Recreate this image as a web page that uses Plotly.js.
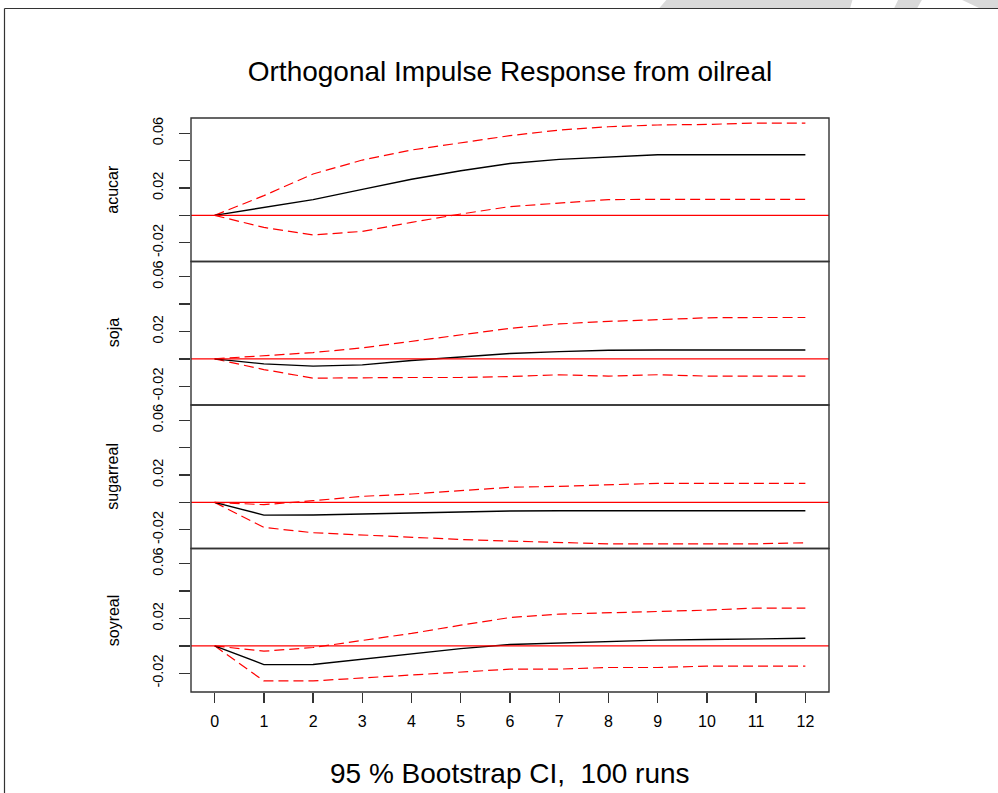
<!DOCTYPE html>
<html>
<head>
<meta charset="utf-8">
<script src="https://cdn.plot.ly/plotly-3.0.1.min.js"></script>
<style>
html,body{margin:0;padding:0;background:#fff;}
#chart{width:998px;height:793px;}
</style>
</head>
<body>
<div id="chart"></div>
<script>
// ---- data ----
const steps = [0,1,2,3,4,5,6,7,8,9,10,11,12];
const panelNames = ["acucar","soja","sugarreal","soyreal"];
const tickVals = [-0.02,0,0.02,0.04,0.06];
const tickLabels = ["-0.02","","0.02","","0.06"];
const xTickLabels = ["0","1","2","3","4","5","6","7","8","9","10","11","12"];

const acucar_irf   = [0,0.0055,0.0115,0.019,0.0264,0.0326,0.0379,0.0409,0.0428,0.0443,0.0443,0.0443,0.0443];
const acucar_upper = [0,0.0144,0.0302,0.0404,0.0477,0.0528,0.0582,0.0623,0.0647,0.066,0.0664,0.0674,0.0674];
const acucar_lower = [0,-0.0088,-0.0143,-0.0117,-0.0051,0.001,0.0064,0.009,0.0115,0.0117,0.0117,0.0117,0.0117];

const soja_irf   = [0,-0.0037,-0.0053,-0.0044,-0.0012,0.0015,0.0039,0.0053,0.0063,0.0065,0.0065,0.0065,0.0065];
const soja_upper = [0,0.0024,0.0046,0.008,0.0126,0.0177,0.0223,0.0255,0.0274,0.0286,0.03,0.0302,0.0302];
const soja_lower = [0,-0.0078,-0.0141,-0.0136,-0.0136,-0.0136,-0.0129,-0.0116,-0.0126,-0.0116,-0.0126,-0.0126,-0.0126];

const sugarreal_irf   = [0,-0.0093,-0.0092,-0.0085,-0.0076,-0.0072,-0.0063,-0.0061,-0.0061,-0.0061,-0.0061,-0.0061,-0.0061];
const sugarreal_upper = [0,-0.0017,0.0012,0.0044,0.0061,0.0088,0.011,0.0117,0.013,0.0139,0.0139,0.0139,0.0139];
const sugarreal_lower = [0,-0.0183,-0.0222,-0.0239,-0.0254,-0.0271,-0.0283,-0.0293,-0.0303,-0.0303,-0.0303,-0.0303,-0.0295];

const soyreal_irf   = [0,-0.0137,-0.0136,-0.0097,-0.0054,-0.002,0.001,0.0022,0.0032,0.0042,0.0046,0.0053,0.0055];
const soyreal_upper = [0,-0.0039,-0.0012,0.0037,0.0091,0.0151,0.0207,0.0232,0.0244,0.0251,0.0261,0.0276,0.0276];
const soyreal_lower = [0,-0.0256,-0.0256,-0.0234,-0.0214,-0.019,-0.017,-0.017,-0.0158,-0.0158,-0.0148,-0.0148,-0.0148];

const titleText = "Orthogonal Impulse Response from oilreal";
const footText = "95 % Bootstrap CI,\u00a0\u00a0100 runs";

// ---- layout helpers ----
const W = 998, H = 793;
const L = 191, R = 829, T = 118, B = 692;
const px = v => (v - L) / (R - L);
const py = v => (B - v) / (B - T);
const FONT = '"Liberation Sans", Arial, sans-serif';
const yRange = [-0.0337, 0.0711];

const series = [
  {irf: acucar_irf, up: acucar_upper, lo: acucar_lower},
  {irf: soja_irf, up: soja_upper, lo: soja_lower},
  {irf: sugarreal_irf, up: sugarreal_upper, lo: sugarreal_lower},
  {irf: soyreal_irf, up: soyreal_upper, lo: soyreal_lower}
];
// panel i (0 = top) uses axis index 4-i (y4 top ... y bottom)
const axisId = i => { const n = 4 - i; return n === 1 ? "y" : "y" + n; };
const axisKey = i => { const n = 4 - i; return n === 1 ? "yaxis" : "yaxis" + n; };
const domainOf = i => [ (3 - i) / 4, (4 - i) / 4 ];

const traces = [];
const shapes = [];
const annotations = [];
const layout = {
  width: W, height: H,
  paper_bgcolor: "#fff", plot_bgcolor: "#fff",
  margin: {l: L, r: W - R, t: T, b: H - B, pad: 0},
  showlegend: false,
  font: {family: FONT, color: "#000"},
  title: {text: titleText, font: {family: FONT, size: 28, color: "#000"},
          x: 0.5, xref: "paper", xanchor: "center", y: 1 - 71 / H, yref: "container", yanchor: "middle"},
  xaxis: {range: [-0.48, 12.48], tickmode: "array", tickvals: steps, ticktext: xTickLabels,
          ticks: "outside", ticklen: 10, tickwidth: 1.3, tickcolor: "#333",
          showgrid: false, zeroline: false, showline: false, anchor: "y",
          tickfont: {family: FONT, size: 16, color: "#000"}, ticklabelstandoff: 5, fixedrange: true}
};

series.forEach((s, i) => {
  const yid = axisId(i);
  const dom = domainOf(i);
  layout[axisKey(i)] = {
    domain: dom, range: yRange, anchor: "x",
    tickmode: "array", tickvals: tickVals, ticktext: tickLabels,
    ticks: "outside", ticklen: 11, tickwidth: 1.3, tickcolor: "#333",
    tickangle: -90, showgrid: false, zeroline: false, showline: false,
    tickfont: {family: FONT, size: 14.5, color: "#000"}, ticklabelstandoff: 10, fixedrange: true
  };
  traces.push({x: steps, y: s.up, xaxis: "x", yaxis: yid, mode: "lines", type: "scatter",
               line: {color: "#ff0000", width: 1.2, dash: "10px,5px"}, hoverinfo: "skip"});
  traces.push({x: steps, y: s.lo, xaxis: "x", yaxis: yid, mode: "lines", type: "scatter",
               line: {color: "#ff0000", width: 1.2, dash: "10px,5px"}, hoverinfo: "skip"});
  traces.push({x: steps, y: s.irf, xaxis: "x", yaxis: yid, mode: "lines", type: "scatter",
               line: {color: "#000", width: 1.4}, hoverinfo: "skip"});
  // zero reference line
  shapes.push({type: "line", xref: "paper", yref: yid, x0: 0, x1: 1, y0: 0, y1: 0,
               line: {color: "#ff0000", width: 1.3}, layer: "above"});
  // panel frame
  shapes.push({type: "rect", xref: "paper", yref: "paper", x0: 0, x1: 1, y0: dom[0], y1: dom[1],
               line: {color: "#333", width: 1.4}, fillcolor: "rgba(0,0,0,0)", layer: "above"});
  // panel label
  annotations.push({text: panelNames[i], xref: "paper", yref: "paper", x: px(113), y: (dom[0] + dom[1]) / 2,
                    xanchor: "center", yanchor: "middle", textangle: -90, showarrow: false,
                    font: {family: FONT, size: 16, color: "#000"}});
});

// footer text
annotations.push({text: footText, xref: "paper", yref: "paper", x: 0.5, y: py(773),
                  xanchor: "center", yanchor: "middle", showarrow: false,
                  font: {family: FONT, size: 28, color: "#000"}});

// decorative grey shapes at the very top right
const poly = pts => "M" + pts.map(p => px(p[0]) + "," + py(p[1])).join(" L") + " Z";
shapes.push({type: "path", xref: "paper", yref: "paper", path: poly([[668,-2],[853,-2],[850,8.5],[659,8.5]]),
             fillcolor: "#d9d9d9", line: {width: 0}, layer: "below"});
shapes.push({type: "path", xref: "paper", yref: "paper", path: poly([[899,-2],[923,-2],[917,8.5],[894,8.5]]),
             fillcolor: "#d9d9d9", line: {width: 0}, layer: "below"});
shapes.push({type: "path", xref: "paper", yref: "paper", path: poly([[958,-2],[1000,-2],[1000,8.5],[980,8.5]]),
             fillcolor: "#d9d9d9", line: {width: 0}, layer: "below"});
// outer border (top and left edges)
shapes.push({type: "line", xref: "paper", yref: "paper", x0: px(4.5), x1: px(1000), y0: py(8.5), y1: py(8.5),
             line: {color: "#333", width: 1.2}, layer: "above"});
shapes.push({type: "line", xref: "paper", yref: "paper", x0: px(4.5), x1: px(4.5), y0: py(8.5), y1: py(800),
             line: {color: "#333", width: 1.2}, layer: "above"});

layout.shapes = shapes;
layout.annotations = annotations;

Plotly.newPlot("chart", traces, layout, {displayModeBar: false, staticPlot: true});
</script>
</body>
</html>
